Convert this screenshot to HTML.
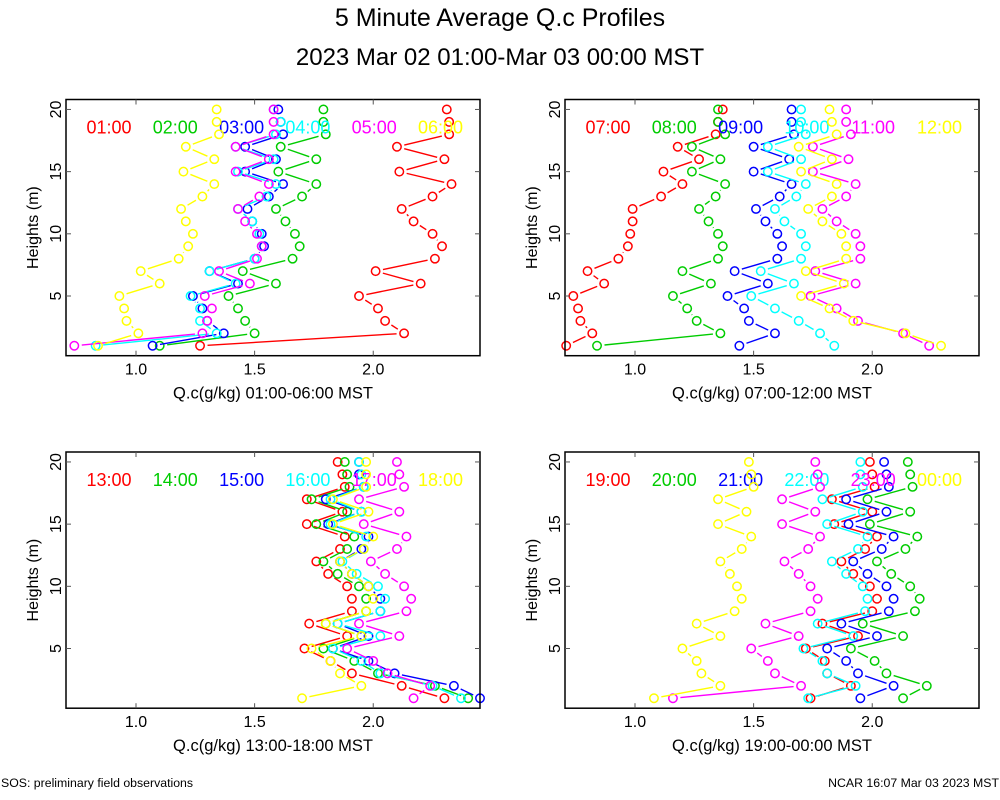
<!DOCTYPE html>
<html><head><meta charset="utf-8"><style>
body{margin:0;background:#fff;}
svg{display:block;font-family:"Liberation Sans",sans-serif;}
</style></head><body>
<svg id="chart" width="1000" height="800" viewBox="0 0 1000 800">
<text x="500" y="26" font-size="25" text-anchor="middle">5 Minute Average Q.c Profiles</text>
<text x="500" y="65" font-size="24" text-anchor="middle">2023 Mar 02 01:00-Mar 03 00:00 MST</text>
<text x="1" y="787" font-size="12.3">SOS: preliminary field observations</text>
<text x="999" y="787" font-size="12.3" text-anchor="end">NCAR 16:07 Mar 03 2023 MST</text>
</svg>
<script>
const heights=[1,2,3,4,5,6,7,8,9,10,11,12,13,14,15,16,17,18,19,20];
const xTicks=[1.0,1.5,2.0];
const xTickLabels=["1.0","1.5","2.0"];
const yTicks=[5,10,15,20];
const colors=["#ff0000","#00cc00","#0000ff","#00ffff","#ff00ff","#ffff00"];
const panelTitles=["Q.c(g/kg) 01:00-06:00 MST","Q.c(g/kg) 07:00-12:00 MST","Q.c(g/kg) 13:00-18:00 MST","Q.c(g/kg) 19:00-00:00 MST"];
const panelLabels=[["01:00","02:00","03:00","04:00","05:00","06:00"],["07:00","08:00","09:00","10:00","11:00","12:00"],["13:00","14:00","15:00","16:00","17:00","18:00"],["19:00","20:00","21:00","22:00","23:00","00:00"]];
const s0100=[1.27,2.13,2.05,2.02,1.94,2.20,2.01,2.26,2.29,2.25,2.17,2.12,2.25,2.33,2.11,2.30,2.10,2.32,2.32,2.31];
const s0200=[1.10,1.50,1.46,1.43,1.39,1.59,1.45,1.66,1.69,1.67,1.63,1.59,1.70,1.76,1.60,1.76,1.61,1.80,1.79,1.79];
const s0300=[1.07,1.37,1.30,1.28,1.24,1.43,1.31,1.50,1.54,1.53,1.49,1.47,1.56,1.62,1.46,1.59,1.46,1.62,1.61,1.60];
const s0400=[0.83,1.34,1.27,1.27,1.23,1.42,1.31,1.50,1.53,1.52,1.49,1.43,1.55,1.59,1.43,1.58,1.42,1.59,1.61,1.58];
const s0500=[0.74,1.28,1.30,1.32,1.29,1.48,1.35,1.51,1.53,1.51,1.46,1.43,1.52,1.56,1.42,1.56,1.42,1.58,1.58,1.58];
const s0600=[0.84,1.01,0.96,0.95,0.93,1.10,1.02,1.18,1.22,1.24,1.21,1.19,1.28,1.33,1.20,1.33,1.21,1.35,1.34,1.34];
const s0700=[0.71,0.82,0.77,0.76,0.74,0.87,0.80,0.93,0.97,0.98,0.99,0.99,1.11,1.20,1.12,1.27,1.18,1.34,1.35,1.37];
const s0800=[0.84,1.36,1.26,1.22,1.16,1.32,1.20,1.35,1.37,1.35,1.31,1.27,1.34,1.38,1.24,1.36,1.24,1.38,1.35,1.35];
const s0900=[1.44,1.59,1.48,1.46,1.39,1.56,1.42,1.60,1.62,1.60,1.55,1.51,1.61,1.66,1.50,1.65,1.50,1.67,1.66,1.66];
const s1000=[1.84,1.78,1.69,1.59,1.49,1.67,1.53,1.70,1.72,1.70,1.63,1.59,1.68,1.72,1.56,1.70,1.56,1.72,1.70,1.70];
const s1100=[2.24,2.13,1.94,1.85,1.74,1.93,1.76,1.95,1.95,1.93,1.85,1.79,1.89,1.93,1.75,1.90,1.75,1.91,1.89,1.89];
const s1200=[2.29,2.14,1.92,1.82,1.70,1.88,1.72,1.89,1.89,1.87,1.79,1.73,1.83,1.85,1.70,1.83,1.69,1.85,1.83,1.82];
const s1300=[2.30,2.12,1.91,1.82,1.71,1.89,1.73,1.91,1.91,1.89,1.81,1.76,1.86,1.88,1.72,1.87,1.72,1.88,1.87,1.85];
const s1400=[2.40,2.26,2.02,1.92,1.79,1.95,1.80,1.97,1.97,1.94,1.85,1.79,1.89,1.92,1.76,1.89,1.74,1.90,1.89,1.88];
const s1500=[2.45,2.34,2.09,1.98,1.83,1.98,1.85,2.03,2.03,1.98,1.91,1.86,1.95,1.98,1.81,1.95,1.80,1.96,1.94,1.94];
const s1600=[2.37,2.25,2.03,1.95,1.83,2.03,1.85,2.03,2.05,2.02,1.93,1.87,1.96,1.97,1.82,1.95,1.82,1.96,1.95,1.94];
const s1700=[2.17,2.24,2.06,2.00,1.89,2.11,1.94,2.14,2.16,2.13,2.05,1.99,2.10,2.14,1.96,2.11,1.94,2.13,2.11,2.10];
const s1800=[1.70,1.95,1.86,1.82,1.74,1.95,1.80,1.97,2.00,1.98,1.91,1.86,1.96,2.00,1.83,1.98,1.83,1.97,1.97,1.97];
const s1900=[1.74,1.91,1.81,1.80,1.72,1.94,1.79,2.00,2.02,1.99,1.92,1.87,1.97,2.02,1.84,2.00,1.83,2.01,2.00,1.99];
const s2000=[2.13,2.23,2.06,2.01,1.91,2.13,1.96,2.18,2.20,2.16,2.08,2.02,2.14,2.19,1.99,2.16,1.98,2.17,2.16,2.15];
const s2100=[1.95,2.09,1.94,1.89,1.81,2.02,1.87,2.07,2.09,2.06,1.98,1.92,2.04,2.09,1.90,2.06,1.89,2.07,2.06,2.05];
const s2200=[1.73,1.93,1.81,1.79,1.71,1.92,1.77,1.97,1.98,1.96,1.89,1.83,1.94,1.98,1.81,1.96,1.79,1.96,1.95,1.95];
const s2300=[1.16,1.70,1.59,1.56,1.49,1.69,1.55,1.74,1.77,1.74,1.69,1.63,1.73,1.78,1.62,1.76,1.62,1.78,1.77,1.76];
const s0000=[1.08,1.36,1.28,1.26,1.20,1.36,1.26,1.42,1.45,1.43,1.40,1.36,1.45,1.49,1.35,1.47,1.35,1.50,1.49,1.48];
const panelSeries=[[s0100,s0200,s0300,s0400,s0500,s0600],[s0700,s0800,s0900,s1000,s1100,s1200],[s1300,s1400,s1500,s1600,s1700,s1800],[s1900,s2000,s2100,s2200,s2300,s0000]];

const NS="http://www.w3.org/2000/svg";
const svg=document.getElementById('chart');
function mk(tag,attrs,parent){const e=document.createElementNS(NS,tag);for(const k in attrs)e.setAttribute(k,attrs[k]);(parent||svg).appendChild(e);return e;}
const offsets=[[0,0],[499,0],[0,352.5],[499,352.5]];
const PW=414,PH=256.2,X0=0.705,X1=2.45,Y0=0.2,Y1=20.8;
offsets.forEach((o,p)=>{
  const L=66+o[0],T=99.5+o[1];
  const xs=v=>L+(v-X0)/(X1-X0)*PW;
  const ys=h=>T+PH-(h-Y0)/(Y1-Y0)*PH;
  const g=mk('g',{});
  
  
  panelSeries[p].forEach((ser,si)=>{
    const sg=mk('g',{},g);
    
    
    const r=4.2,gap=7.5;
    for(let i=0;i<ser.length-1;i++){
      const x1=xs(ser[i]),y1=ys(heights[i]),x2=xs(ser[i+1]),y2=ys(heights[i+1]);
      const d=Math.hypot(x2-x1,y2-y1);
      if(d>2*gap){const ux=(x2-x1)/d,uy=(y2-y1)/d;
        const ln=mk('line',{x1:x1+ux*gap,y1:y1+uy*gap,x2:x2-ux*gap,y2:y2-uy*gap,stroke:colors[si],'stroke-width':1.4},sg);
        
        }
    }
    ser.forEach((v,i)=>{
      const c=mk('circle',{cx:xs(v),cy:ys(heights[i]),r:r,fill:'none',stroke:colors[si],'stroke-width':1.5},sg);
      
      
    });
    const lt=mk('text',{x:L+43+si*66.3,y:T+34,'font-size':18,'text-anchor':'middle',fill:colors[si]},g);
    lt.textContent=panelLabels[p][si];
    
    
  });
  const box=mk('rect',{x:L,y:T,width:PW,height:PH,fill:'none',stroke:'#000','stroke-width':1.5},g);
  
  
  xTicks.forEach((t,i)=>{
    const x=xs(t);
    mk('line',{x1:x,y1:T+PH,x2:x,y2:T+PH-5,stroke:'#555','stroke-width':1},g);
    mk('line',{x1:x,y1:T,x2:x,y2:T+5,stroke:'#555','stroke-width':1},g);
    const tl=mk('text',{x:x,y:T+PH+19,'font-size':16,'text-anchor':'middle'},g);
    tl.textContent=xTickLabels[i];
    
    
  });
  yTicks.forEach(t=>{
    const y=ys(t);
    mk('line',{x1:L,y1:y,x2:L+5,y2:y,stroke:'#555','stroke-width':1},g);
    mk('line',{x1:L+PW,y1:y,x2:L+PW-5,y2:y,stroke:'#555','stroke-width':1},g);
    const tl=mk('text',{x:0,y:0,'font-size':16,'text-anchor':'middle',transform:`translate(${L-5},${y}) rotate(-90)`},g);
    tl.textContent=String(t);
    
    
  });
  const xt=mk('text',{x:L+PW/2,y:T+PH+43,'font-size':16.5,'text-anchor':'middle'},g);
  xt.textContent=panelTitles[p];
  
  
  const yt=mk('text',{x:0,y:0,'font-size':16,'text-anchor':'middle',transform:`translate(${L-28},${T+PH/2}) rotate(-90)`},g);
  yt.textContent='Heights (m)';
  
  
});
</script>
</body></html>
